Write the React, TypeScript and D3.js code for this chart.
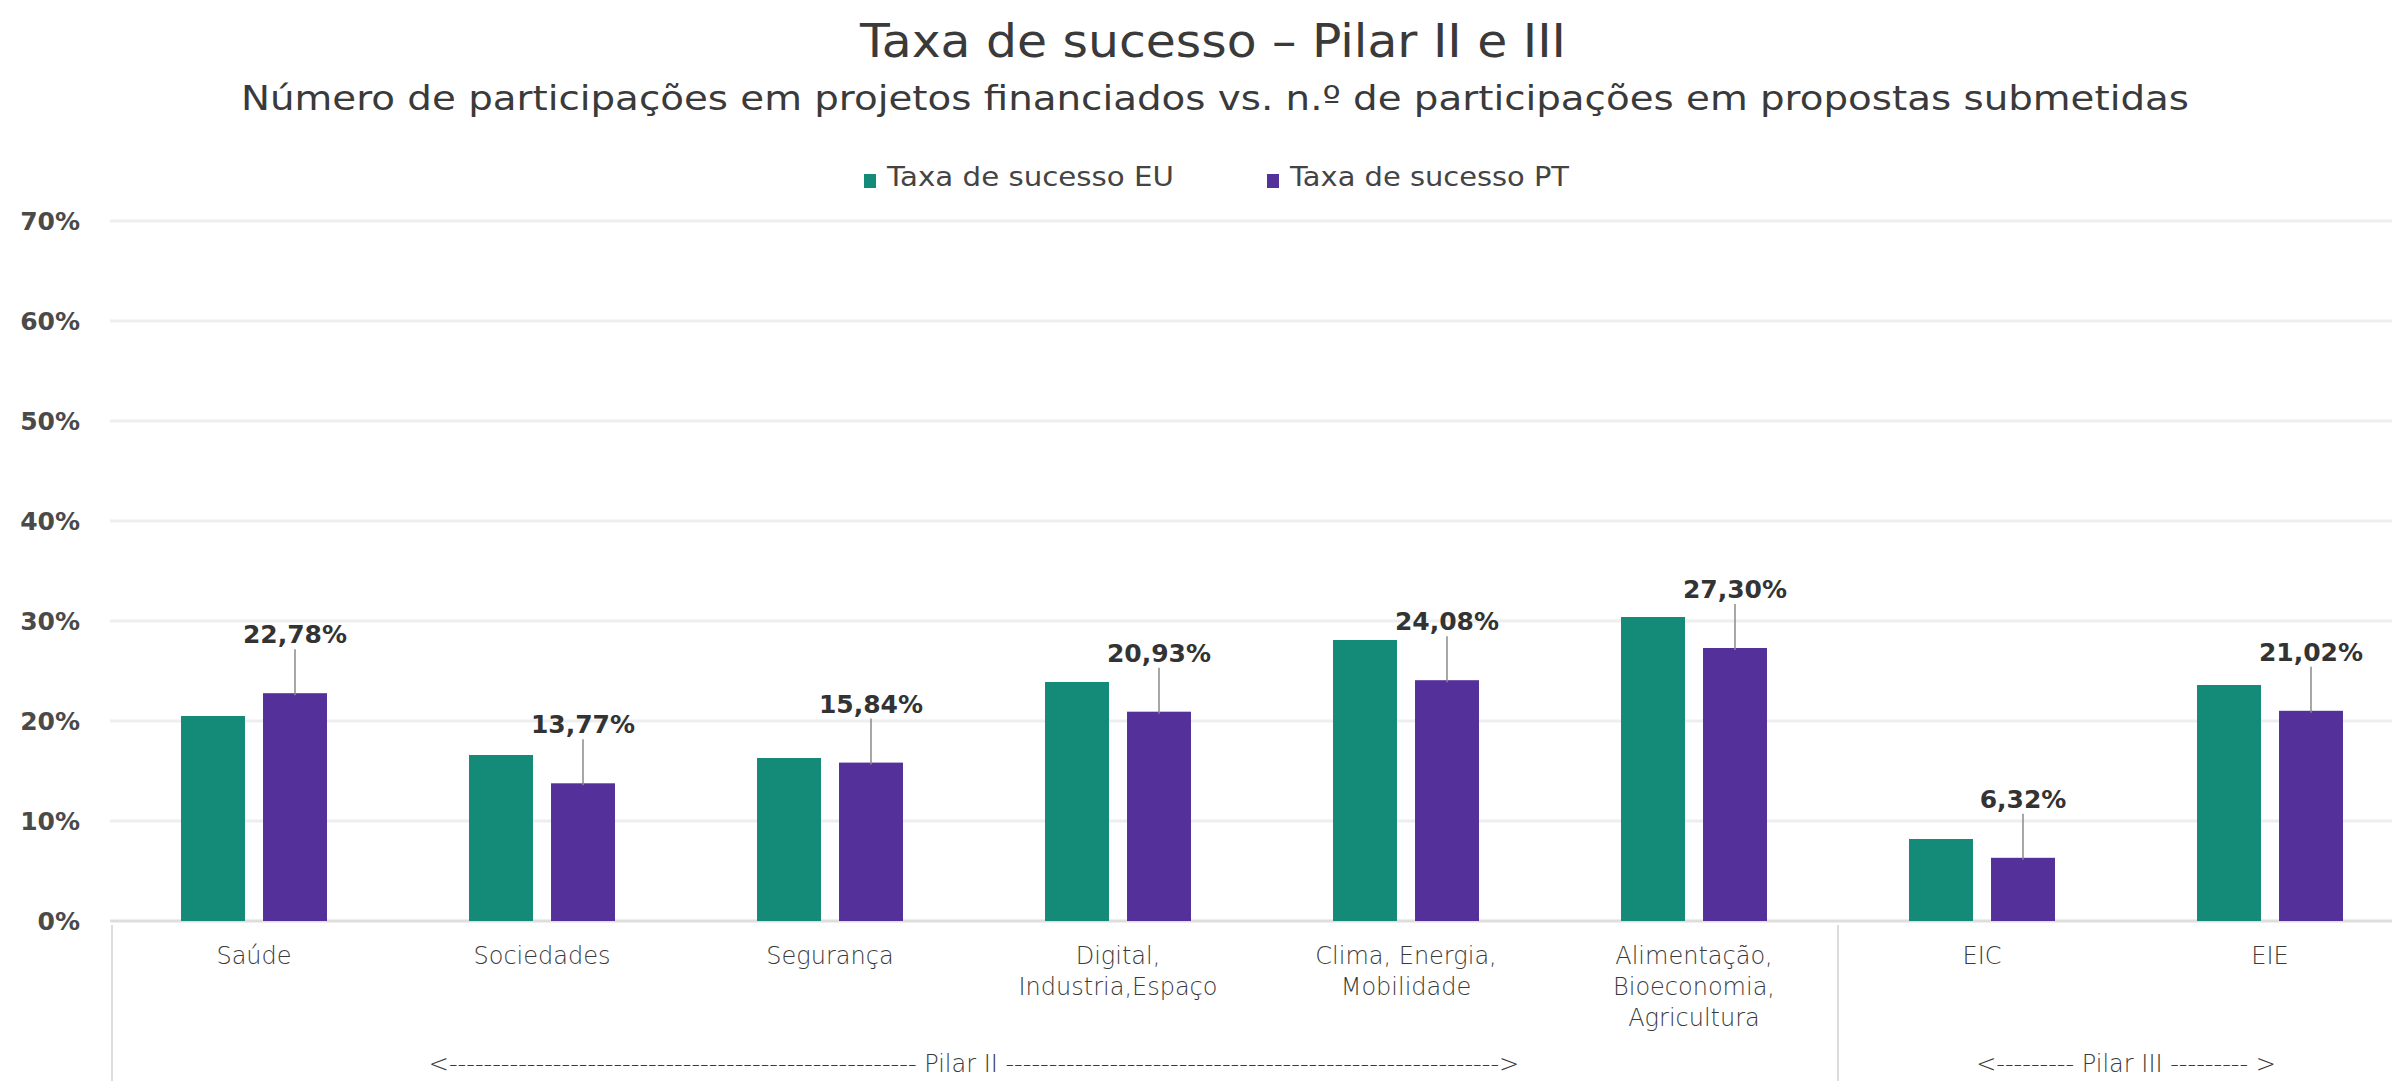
import React from "react";
import * as d3 from "d3";

// ---------- data ----------
const categories = [
  "Saúde",
  "Sociedades",
  "Segurança",
  "Digital,\nIndustria,Espaço",
  "Clima, Energia,\nMobilidade",
  "Alimentação,\nBioeconomia,\nAgricultura",
  "EIC",
  "EIE",
];
const pillars = ["Pilar II", "Pilar II", "Pilar II", "Pilar II", "Pilar II", "Pilar II", "Pilar III", "Pilar III"];
const seriesNames = ["Taxa de sucesso EU", "Taxa de sucesso PT"];
const euRate = [20.5, 16.6, 16.3, 23.9, 28.1, 30.4, 8.2, 23.6];
const ptRate = [22.78, 13.77, 15.84, 20.93, 24.08, 27.3, 6.32, 21.02];
const yTicks = [0, 10, 20, 30, 40, 50, 60, 70];

const title = "Taxa de sucesso – Pilar II e III";
const subtitle = "Número de participações em projetos financiados vs. n.º de participações em propostas submetidas";

// ---------- style ----------
const W = 2392;
const H = 1081;
const FONT = "'DejaVu Sans', 'Open Sans', sans-serif";
const COLORS = ["#148a78", "#53309a"];
const TEXT = "#333333";

export default function App() {
  const x0 = d3.scaleBand<string>().domain(categories).range([110, 2414]).paddingInner(0).paddingOuter(0);
  const x1 = d3
    .scaleBand<string>()
    .domain(seriesNames)
    .range([0, x0.bandwidth()])
    .paddingInner(0.22)
    .paddingOuter(0.866);
  const y = d3.scaleLinear().domain([0, 70]).range([921, 221]);
  const fmt = (v: number) => d3.format(".2f")(v).replace(".", ",") + "%";

  const series = [euRate, ptRate];

  // pillar groups
  const groups: { name: string; start: number; end: number }[] = [];
  pillars.forEach((p, i) => {
    const last = groups[groups.length - 1];
    if (last && last.name === p) last.end = i;
    else groups.push({ name: p, start: i, end: i });
  });
  const dashCount: Record<string, [number, number]> = { "Pilar II": [54, 57], "Pilar III": [9, 9] };

  return (
    <svg width={W} height={H} style={{ position: "absolute", left: 0, top: 0, background: "#fff" }} fontFamily={FONT}>
      <rect x={0} y={0} width={W} height={H} fill="#fff" />
      {/* titles */}
      <text x={1213} y={57} textAnchor="middle" fontSize={47} fill="#3a3a3a" textLength={706} lengthAdjust="spacingAndGlyphs">
        {title}
      </text>
      <text x={1215} y={110} textAnchor="middle" fontSize={34} fill="#3a3a3a" textLength={1948} lengthAdjust="spacingAndGlyphs">
        {subtitle}
      </text>

      {/* legend */}
      {seriesNames.map((s, i) => (
        <g key={s} transform={`translate(${864 + i * 403},0)`}>
          <rect x={0} y={174} width={12} height={14} fill={COLORS[i]} />
          <text x={23} y={186} fontSize={27} fill="#444" textLength={i === 0 ? 287 : 279} lengthAdjust="spacingAndGlyphs">
            {s}
          </text>
        </g>
      ))}

      {/* gridlines */}
      {yTicks.map((t) => (
        <g key={t}>
          <line x1={110} x2={W} y1={y(t)} y2={y(t)} stroke={t === 0 ? "#dedede" : "#eeeeee"} strokeWidth={3} />
          <text x={80} y={y(t) + 9} textAnchor="end" fontSize={25} fontWeight={700} fill="#4a4a4a">
            {t + "%"}
          </text>
        </g>
      ))}

      {/* group separators */}
      {groups.map((g, gi) => (
        <line
          key={"sep" + gi}
          x1={x0(categories[g.start])! + (gi === 0 ? 2 : 0)}
          x2={x0(categories[g.start])! + (gi === 0 ? 2 : 0)}
          y1={y(0) + 4}
          y2={H}
          stroke="#dcdcdc"
          strokeWidth={2}
        />
      ))}

      {/* bars */}
      {categories.map((c, ci) => (
        <g key={c} transform={`translate(${x0(c)},0)`}>
          {series.map((vals, si) => (
            <rect
              key={si}
              x={x1(seriesNames[si])}
              y={y(vals[ci])}
              width={x1.bandwidth()}
              height={y(0) - y(vals[ci])}
              fill={COLORS[si]}
            />
          ))}
          {/* PT data label with leader line */}
          <line
            x1={x1(seriesNames[1])! + x1.bandwidth() / 2}
            x2={x1(seriesNames[1])! + x1.bandwidth() / 2}
            y1={y(ptRate[ci]) - 44}
            y2={y(ptRate[ci]) + 2}
            stroke="#8a8a8a"
            strokeWidth={1.5}
          />
          <text
            x={x1(seriesNames[1])! + x1.bandwidth() / 2}
            y={y(ptRate[ci]) - 50}
            textAnchor="middle"
            fontSize={25}
            fontWeight={700}
            fill={TEXT}
          >
            {fmt(ptRate[ci])}
          </text>
          {/* category label */}
          {c.split("\n").map((line, li) => (
            <text
              key={li}
              x={x0.bandwidth() / 2}
              y={964 + li * 31}
              textAnchor="middle"
              fontSize={24}
              fontWeight={300}
              fill="#3a3a3a"
            >
              {line}
            </text>
          ))}
        </g>
      ))}

      {/* pillar labels */}
      {groups.map((g) => {
        const cx = (x0(categories[g.start])! + x0(categories[g.end])! + x0.bandwidth()) / 2;
        const [l, r] = dashCount[g.name];
        const str = "<" + "-".repeat(l) + " " + g.name + " " + "-".repeat(r) + (g.name === "Pilar III" ? " >" : ">");
        return (
          <text key={g.name} x={cx} y={1072} textAnchor="middle" fontSize={24} fontWeight={300} fill="#3a3a3a">
            {str}
          </text>
        );
      })}
    </svg>
  );
}
